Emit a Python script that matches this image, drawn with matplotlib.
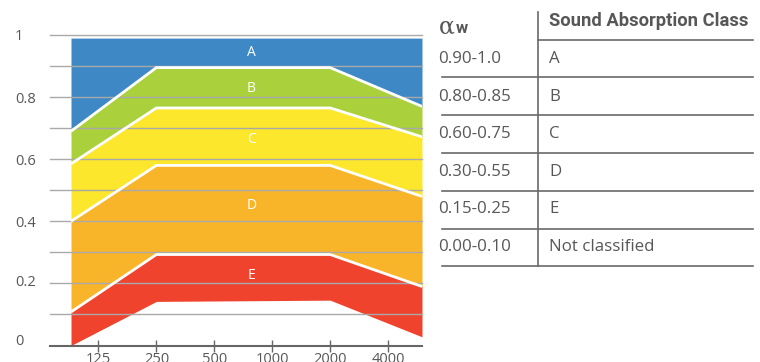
import matplotlib
matplotlib.use("Agg")
import matplotlib.pyplot as plt
import matplotlib.transforms as mtransforms

# frequency bands (Hz) and boundary curves of the classes
freqs = [125, 250, 500, 1000, 2000, 4000]
edge_x = [90, 250, 2000, 6000]          # left edge, knees, right edge
bound_top = [0.99, 0.99, 0.99, 0.99]
bound_ab = [0.69, 0.895, 0.895, 0.77]
bound_bc = [0.585, 0.765, 0.765, 0.672]
bound_cd = [0.40, 0.58, 0.58, 0.48]
bound_de = [0.108, 0.293, 0.293, 0.19]
bound_e0 = [0.0, 0.142, 0.146, 0.028]

classes = ["A", "B", "C", "D", "E"]
class_label_y = [0.945, 0.828, 0.665, 0.452, 0.224]
band_colors = ["#3f88c6", "#aad03c", "#fce72c", "#f9b52a", "#ef432e"]

yticks = [0, 0.2, 0.4, 0.6, 0.8, 1]
ytick_labels = ["0", "0.2", "0.4", "0.6", "0.8", "1"]

alpha_ranges = ["0.90-1.0", "0.80-0.85", "0.60-0.75", "0.30-0.55", "0.15-0.25", "0.00-0.10"]
abs_classes = ["A", "B", "C", "D", "E", "Not classified"]

txt = "#575757"
plt.rcParams['font.family'] = ['Open Sans', 'DejaVu Sans']

fig = plt.figure(figsize=(7.6, 3.62), dpi=100)
W, H = 760, 362
ax = fig.add_axes([50 / W, (H - 345.5) / H, 372 / W, 310.5 / H])

bounds = [bound_top, bound_ab, bound_bc, bound_cd, bound_de, bound_e0]
for i in range(5):
    ax.fill_between(edge_x, bounds[i + 1], bounds[i], color=band_colors[i], lw=0, zorder=1)
# white separators
for b in bounds[1:5]:
    ax.plot(edge_x, b, color="white", lw=2, zorder=3, solid_capstyle="butt")

for c, y in zip(classes, class_label_y):
    ax.text(1000 * 0.78, y, c, color="white", fontsize=10, ha="center", va="center", zorder=4)

ax.set_xscale("log", base=2)
ax.set_xlim(70, 6000)
ax.set_ylim(0, 1)

for v in [0.1 * k for k in range(1, 11)]:
    ax.axhline(v, color="#a9a9a9", lw=1, zorder=2, clip_on=False)

ax.set_xticks(freqs)
ax.set_xticklabels([str(f) for f in freqs])
ax.minorticks_off()
ax.tick_params(axis="x", direction="inout", length=8, width=1, color="#666666",
               labelsize=10.5, labelcolor=txt, pad=1)
ax.set_yticks(yticks)
ax.set_yticklabels(ytick_labels)
ax.tick_params(axis="y", length=0, labelsize=10.5, labelcolor=txt, pad=25.2)
for lab in ax.get_yticklabels():
    lab.set_horizontalalignment("left")
# the lowest labels sit a little above their lines in the reference
ylabs = ax.get_yticklabels()
ylabs[0].set_transform(ylabs[0].get_transform() + mtransforms.ScaledTranslation(0, 6 / 100, fig.dpi_scale_trans))
ylabs[1].set_transform(ylabs[1].get_transform() + mtransforms.ScaledTranslation(0, 3 / 100, fig.dpi_scale_trans))

for s in ["top", "right", "left"]:
    ax.spines[s].set_visible(False)
ax.spines["bottom"].set_color("#666666")
ax.spines["bottom"].set_linewidth(1.5)
ax.spines["bottom"].set_zorder(5)
ax.set_facecolor("none")

# table on the right, in pixel coordinates
tab = fig.add_axes([0, 0, 1, 1])
tab.set_xlim(0, W)
tab.set_ylim(H, 0)
tab.axis("off")
tab.patch.set_alpha(0)

line_c = "#6a6a6a"
tab.plot([537.5, 537.5], [11.5, 266], color=line_c, lw=1.2)
tab.plot([537.5, 753], [39.5, 39.5], color=line_c, lw=1.2)
row_lines = [76.7, 115, 152.7, 190.7, 228.7, 266]
for yl in row_lines:
    tab.plot([441.5, 753], [yl, yl], color=line_c, lw=1.2)

tab.text(439, 27.5, "α", fontsize=17, color=txt, family="DejaVu Serif", va="center", ha="left")
tab.text(455.5, 28.5, "w", fontsize=12, color=txt, weight="bold", family="Roboto", va="center", ha="left")
tab.text(549, 21, "Sound Absorption Class", fontsize=13.2, color=txt, weight="bold", family="Roboto",
         va="center", ha="left")

for i, (r, c) in enumerate(zip(alpha_ranges, abs_classes)):
    y = 59.3 + 37.5 * i
    tab.text(438, y, r, fontsize=12.2, color=txt, va="center", ha="left")
    tab.text(549, y, c, fontsize=12.2, color=txt, va="center", ha="left")

fig.savefig("out.png", dpi=100)
